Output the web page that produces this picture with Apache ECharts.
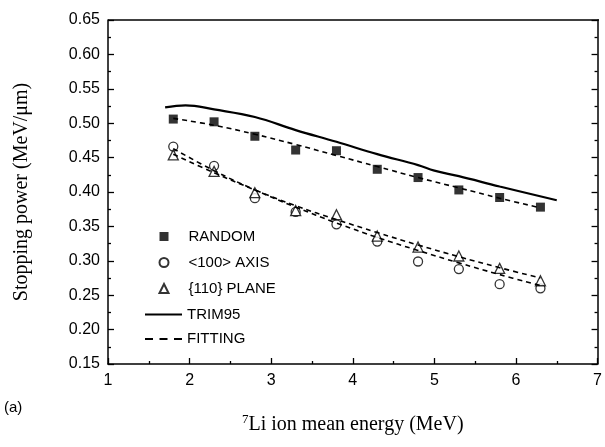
<!DOCTYPE html>
<html>
<head>
<meta charset="utf-8">
<script src="https://cdn.jsdelivr.net/npm/echarts@6/dist/echarts.min.js"></script>
<style>
  html, body { margin: 0; padding: 0; background: #fff; }
  #chart { width: 605px; height: 447px; }
</style>
</head>
<body>
<div id="chart"></div>
<script>
  // measured points (MeV, MeV/um)
  var energy = [1.8, 2.3, 2.8, 3.3, 3.8, 4.3, 4.8, 5.3, 5.8, 6.3];
  var random = [0.506, 0.502, 0.481, 0.461, 0.460, 0.433, 0.421, 0.403, 0.392, 0.378];
  var axis100 = [0.466, 0.438, 0.391, 0.371, 0.353, 0.328, 0.299, 0.288, 0.266, 0.260];
  var plane110 = [0.454, 0.430, 0.399, 0.373, 0.367, 0.336, 0.320, 0.307, 0.289, 0.271];

  // TRIM95 curve
  var trimEnergy = [1.7, 1.95, 2.3, 2.8, 3.3, 3.8, 4.3, 4.8, 5.0, 5.3, 5.8, 6.5];
  var trim95 = [0.523, 0.526, 0.520, 0.509, 0.490, 0.473, 0.455, 0.439, 0.431, 0.423, 0.408, 0.388];

  // fitting curves
  var fitRandom = [0.507, 0.497, 0.484, 0.469, 0.453, 0.437, 0.421, 0.406, 0.391, 0.377];
  var fitAxis = [0.463, 0.431, 0.403, 0.378, 0.355, 0.334, 0.315, 0.297, 0.280, 0.264];
  var fitPlane = [0.455, 0.428, 0.403, 0.380, 0.360, 0.341, 0.323, 0.306, 0.290, 0.275];

  function pairs(xs, ys) {
    return xs.map(function (x, i) { return [x, ys[i]]; });
  }

  var myChart = echarts.init(document.getElementById('chart'));

  var tickFont = { fontFamily: 'Liberation Sans, Arial', fontSize: 16, color: '#000' };
  var titleFont = { fontFamily: 'Liberation Serif, Times New Roman', fontSize: 20, color: '#000' };
  var legendFont = { fontFamily: 'Liberation Sans, Arial', fontSize: 15, color: '#000', lineHeight: 15 };

  var fitStyle = { color: '#000', width: 1.6, type: [5, 4] };
  var tickStyle = { color: '#000', width: 1.3 };

  var option = {
    animation: false,
    grid: { left: 108, right: 6, top: 20, bottom: 83 },
    legend: [
      {
        // marker entries
        orient: 'vertical',
        left: 158.5,
        top: 229,
        padding: 0,
        itemWidth: 9,
        itemHeight: 9,
        itemGap: 11,
        textStyle: Object.assign({ padding: [0, 0, 0, 15] }, legendFont),
        data: ['RANDOM', '<100> AXIS', '{110} PLANE']
      },
      {
        // line entries
        orient: 'vertical',
        left: 145,
        top: 307,
        padding: 0,
        itemWidth: 37,
        itemHeight: 2,
        itemGap: 9.5,
        textStyle: legendFont,
        data: [
          { name: 'TRIM95', icon: 'rect' },
          { name: 'FITTING', icon: 'path://M0,0h8v2h-8z M14.5,0h8v2h-8z M29,0h8v2h-8z' }
        ]
      }
    ],
    xAxis: {
      type: 'value',
      min: 1,
      max: 7,
      interval: 1,
      name: '{sup|7}Li ion mean energy (MeV)',
      nameLocation: 'middle',
      nameGap: 49,
      nameTextStyle: {
        fontFamily: 'Liberation Serif, Times New Roman', fontSize: 20, color: '#000',
        rich: { sup: { fontFamily: 'Liberation Serif', fontSize: 13, verticalAlign: 'top', padding: [0, 0, 10, 0] } }
      },
      axisLine: { lineStyle: { color: '#000', width: 1.5 } },
      axisTick: { inside: true, length: 6, lineStyle: tickStyle },
      minorTick: { show: true, splitNumber: 2, length: 3, lineStyle: tickStyle },
      axisLabel: Object.assign({ margin: 9 }, tickFont),
      splitLine: { show: false }
    },
    yAxis: [
      {
        type: 'value',
        min: 0.15,
        max: 0.65,
        interval: 0.05,
        name: 'Stopping power (MeV/\u03bcm)',
        nameLocation: 'middle',
        nameRotate: 90,
        nameGap: 76,
        nameTextStyle: titleFont,
        axisLine: { show: true, lineStyle: { color: '#000', width: 1.5 } },
        axisTick: { inside: true, length: 6, lineStyle: tickStyle },
        minorTick: { show: true, splitNumber: 2, length: 3, lineStyle: tickStyle },
        axisLabel: Object.assign({ margin: 8, formatter: function (v) { return v.toFixed(2); } }, tickFont),
        splitLine: { show: false }
      },
      {
        // mirrored right axis, ticks only
        type: 'value',
        position: 'right',
        min: 0.15,
        max: 0.65,
        interval: 0.05,
        axisLine: { show: true, lineStyle: { color: '#000', width: 1.5 } },
        axisTick: { inside: true, length: 6, lineStyle: tickStyle },
        minorTick: { show: true, splitNumber: 2, length: 3, lineStyle: tickStyle },
        axisLabel: { show: false },
        splitLine: { show: false }
      }
    ],
    graphic: [
      // top border of the frame
      { type: 'line', shape: { x1: 108, y1: 20, x2: 599, y2: 20 }, style: { stroke: '#000', lineWidth: 1.5 } },
      { type: 'text', left: 4, top: 400, style: { text: '(a)', fontFamily: 'Liberation Sans, Arial', fontSize: 15, fill: '#000' } }
    ],
    series: [
      {
        name: 'TRIM95',
        type: 'line',
        smooth: 0.4,
        symbol: 'none',
        lineStyle: { color: '#000', width: 2.2 },
        itemStyle: { color: '#000' },
        data: pairs(trimEnergy, trim95)
      },
      {
        name: 'FITTING',
        type: 'line',
        smooth: 0.4,
        symbol: 'none',
        lineStyle: fitStyle,
        itemStyle: { color: '#000' },
        data: pairs(energy, fitRandom)
      },
      {
        name: 'FITTING',
        type: 'line',
        smooth: 0.4,
        symbol: 'none',
        lineStyle: fitStyle,
        itemStyle: { color: '#000' },
        data: pairs(energy, fitAxis)
      },
      {
        name: 'FITTING',
        type: 'line',
        smooth: 0.4,
        symbol: 'none',
        lineStyle: fitStyle,
        itemStyle: { color: '#000' },
        data: pairs(energy, fitPlane)
      },
      {
        name: 'RANDOM',
        type: 'scatter',
        symbol: 'rect',
        symbolSize: 9,
        itemStyle: { color: '#000' },
        data: pairs(energy, random)
      },
      {
        name: '<100> AXIS',
        type: 'scatter',
        symbol: 'circle',
        symbolSize: 9,
        itemStyle: { color: '#fff', borderColor: '#000', borderWidth: 1.3 },
        data: pairs(energy, axis100)
      },
      {
        name: '{110} PLANE',
        type: 'scatter',
        symbol: 'triangle',
        symbolSize: 10,
        itemStyle: { color: '#fff', borderColor: '#000', borderWidth: 1.3 },
        data: pairs(energy, plane110)
      }
    ]
  };

  myChart.setOption(option);
</script>
</body>
</html>
